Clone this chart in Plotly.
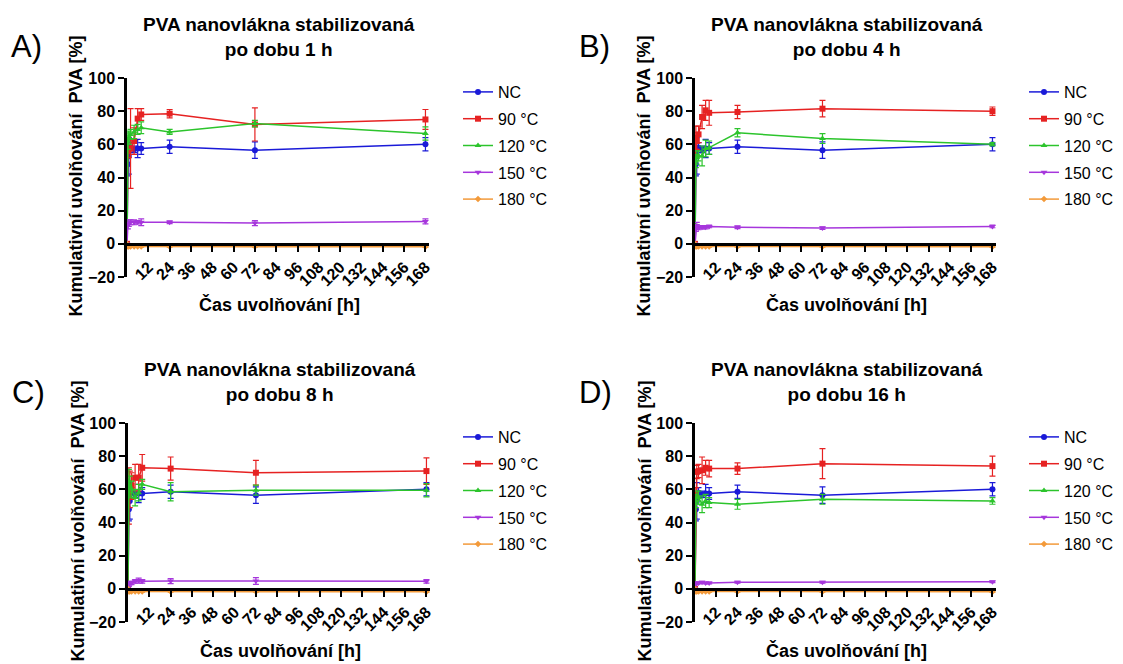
import plotly.graph_objects as go

# ---------------- data ----------------
times = [0, 0.5, 1, 2, 4, 6, 8, 24, 72, 168]
series_names = ["NC", "90 °C", "120 °C", "150 °C", "180 °C"]
panel_letters = ["A)", "B)", "C)", "D)"]
panel_titles = [
    "PVA nanovlákna stabilizovaná<br>po dobu 1 h",
    "PVA nanovlákna stabilizovaná<br>po dobu 4 h",
    "PVA nanovlákna stabilizovaná<br>po dobu 8 h",
    "PVA nanovlákna stabilizovaná<br>po dobu 16 h",
]
x_ticks = [12, 24, 36, 48, 60, 72, 84, 96, 108, 120, 132, 144, 156, 168]
y_ticks = [-20, 0, 20, 40, 60, 80, 100]

nc = [0, 48, 53, 58, 57, 57.5, 57.5, 58.5, 56.5, 60]
nc_err = [0, 7, 11, 3, 2, 5.5, 3.5, 4, 5, 4]

red_A = [0, 56, 57, 57.5, 62, 75.5, 78, 78.5, 72, 75]
red_A_err = [0, 4, 5, 24, 8, 6, 3.5, 2.5, 10, 6]
green_A = [0, 62, 64, 66, 67.5, 69, 70, 67.5, 72.5, 66.5]
green_A_err = [0, 5, 4, 3, 4, 3, 3.5, 1.5, 2, 4]
purple_A = [0, 11, 12.5, 13, 13, 13, 13, 13, 12.5, 13.5]
purple_A_err = [0, 2, 2, 1.5, 1.5, 1, 2, 0.8, 1.5, 1.5]

red_B = [0, 64, 62, 66, 76.5, 80.5, 79, 79.5, 81.5, 80]
red_B_err = [0, 7, 5, 5, 7, 6, 7.5, 4, 5, 2.5]
green_B = [0, 50, 52, 53, 53, 57.5, 58, 67, 63.5, 60]
green_B_err = [0, 4, 4, 3, 6, 5, 4, 2.5, 3, 1]
purple_B = [0, 9, 11, 9.5, 10, 10, 10.5, 10, 9.5, 10.5]
purple_B_err = [0, 1.5, 2, 1, 1, 1, 0.8, 0.8, 0.8, 0.8]

red_C = [0, 56, 60, 62, 67, 67, 73, 72.5, 70, 71]
red_C_err = [0, 17, 11, 8, 8, 8, 8, 7, 7.5, 8]
green_C = [0, 65, 62, 60, 55, 58, 63, 58.5, 59.5, 59.5]
green_C_err = [0, 7, 6, 5, 5, 5, 3, 5.5, 3, 4]
purple_C = [0, 2.5, 3.5, 3.5, 4.5, 5, 4.5, 4.7, 4.7, 4.5]
purple_C_err = [0, 1, 1, 1, 1, 1.5, 1, 1.5, 2, 1]

red_D = [0, 57, 70.5, 71, 71.5, 73, 72.5, 72.5, 75.5, 74]
red_D_err = [0, 4, 4, 4, 8, 4.5, 5, 3.5, 9, 6]
green_D = [0, 53, 55, 55, 51, 53, 52, 51, 54, 53]
green_D_err = [0, 4, 4, 4, 5, 4, 3, 3, 3, 2]
purple_D = [0, 3, 3.5, 3.5, 4, 3.5, 3.5, 4, 4, 4.2]
purple_D_err = [0, 0.5, 0.5, 0.5, 0.5, 0.5, 0.5, 0.5, 0.5, 0.5]

orange = [0, -1.6, -1.6, -1.6, -1.6, -1.6, -1.6, -1.6, -1.6, -1.8]
orange_err = [0, 0.4, 0.4, 0.4, 0.4, 0.4, 0.4, 0.4, 0.4, 0.4]

panels = [
    [(nc, nc_err), (red_A, red_A_err), (green_A, green_A_err), (purple_A, purple_A_err), (orange, orange_err)],
    [(nc, nc_err), (red_B, red_B_err), (green_B, green_B_err), (purple_B, purple_B_err), (orange, orange_err)],
    [(nc, nc_err), (red_C, red_C_err), (green_C, green_C_err), (purple_C, purple_C_err), (orange, orange_err)],
    [(nc, nc_err), (red_D, red_D_err), (green_D, green_D_err), (purple_D, purple_D_err), (orange, orange_err)],
]

# ---------------- style ----------------
W, H = 1123, 664
colors = ["#1a1ad8", "#e62222", "#2cc42c", "#a636dc", "#f39a3a"]
symbols = ["circle", "square", "triangle-up", "triangle-down", "diamond"]
FONT = "Liberation Sans, Arial, sans-serif"

# pixel boxes of each plot area: (left, right, top, bottom)
boxes = [(127, 429, 78, 277), (695, 996, 78, 277), (128, 430, 423, 622), (695, 996, 423, 622)]
legend_pos = [(458, 75), (1024, 75), (458, 420), (1024, 420)]

fig = go.Figure()
annotations = []
layout = {}
for i, (series, box) in enumerate(zip(panels, boxes)):
    n = "" if i == 0 else str(i + 1)
    L, R, T, B = box
    xd = [L / W, R / W]
    yd = [1 - B / H, 1 - T / H]
    ymin, ymax = -20, 100
    zero_pos = yd[0] + (yd[1] - yd[0]) * (0 - ymin) / (ymax - ymin)
    lg = "legend" if i == 0 else f"legend{i + 1}"
    for j, ((vals, errs), name) in enumerate(zip(series, series_names)):
        fig.add_trace(go.Scatter(
            x=times, y=vals, name=name, mode="lines+markers",
            line=dict(color=colors[j], width=1.5),
            marker=dict(color=colors[j], symbol=symbols[j], size=6 if j < 4 else 5),
            error_y=dict(type="data", array=errs, visible=True, color=colors[j], thickness=1.2, width=3),
            xaxis="x" + n, yaxis="y" + n, legend=lg, legendgroup=f"{i}_{j}",
            cliponaxis=False,
        ))
    layout["xaxis" + n] = dict(
        domain=xd, range=[0, 170], anchor="free", position=zero_pos,
        tickvals=x_ticks, ticktext=[str(t) for t in x_ticks], tickangle=-45,
        ticks="outside", ticklen=6, tickwidth=2, tickcolor="black",
        showline=True, linecolor="black", linewidth=2.5,
        showgrid=False, zeroline=False, automargin=False,
        tickfont=dict(family=FONT, size=16, color="black", weight="bold"),
    )
    layout["yaxis" + n] = dict(
        domain=yd, range=[ymin, ymax], anchor="x" + n,
        tickvals=y_ticks, ticks="outside", ticklen=6, tickwidth=2, tickcolor="black",
        showline=True, linecolor="black", linewidth=2.5,
        showgrid=False, zeroline=False, automargin=False,
        tickfont=dict(family=FONT, size=16, color="black", weight="bold"),
    )
    lx, ly = legend_pos[i]
    layout[lg] = dict(
        x=lx / W, y=1 - ly / H, xanchor="left", yanchor="top",
        font=dict(family=FONT, size=16, color="black"),
        bgcolor="rgba(0,0,0,0)", tracegroupgap=3, itemwidth=30,
    )
    cx = (L + R) / 2 + 1
    # title
    annotations.append(dict(text=panel_titles[i], x=cx / W, y=1 - (T - 66) / H,
                            xref="paper", yref="paper", xanchor="center", yanchor="top",
                            showarrow=False, align="center",
                            font=dict(family=FONT, size=19, color="black", weight="bold")))
    # x title
    annotations.append(dict(text="Čas uvolňování [h]", x=cx / W, y=1 - (B + 28) / H,
                            xref="paper", yref="paper", xanchor="center", yanchor="middle",
                            showarrow=False,
                            font=dict(family=FONT, size=18, color="black", weight="bold")))
    # y title
    annotations.append(dict(text="Kumulativní uvolňování  PVA [%]", x=(L - 51) / W,
                            y=1 - ((T + B) / 2 - 1) / H,
                            xref="paper", yref="paper", xanchor="center", yanchor="middle",
                            textangle=-90, showarrow=False,
                            font=dict(family=FONT, size=18, color="black", weight="bold")))
    # panel letter
    annotations.append(dict(text=panel_letters[i], x=(L - 118) / W, y=1 - (T - 31) / H,
                            xref="paper", yref="paper", xanchor="left", yanchor="middle",
                            showarrow=False,
                            font=dict(family=FONT, size=31, color="black")))

fig.update_layout(
    width=W, height=H, margin=dict(l=0, r=0, t=0, b=0, autoexpand=False),
    paper_bgcolor="white", plot_bgcolor="white",
    showlegend=True, annotations=annotations, **layout,
)
fig.write_html("out.html")
